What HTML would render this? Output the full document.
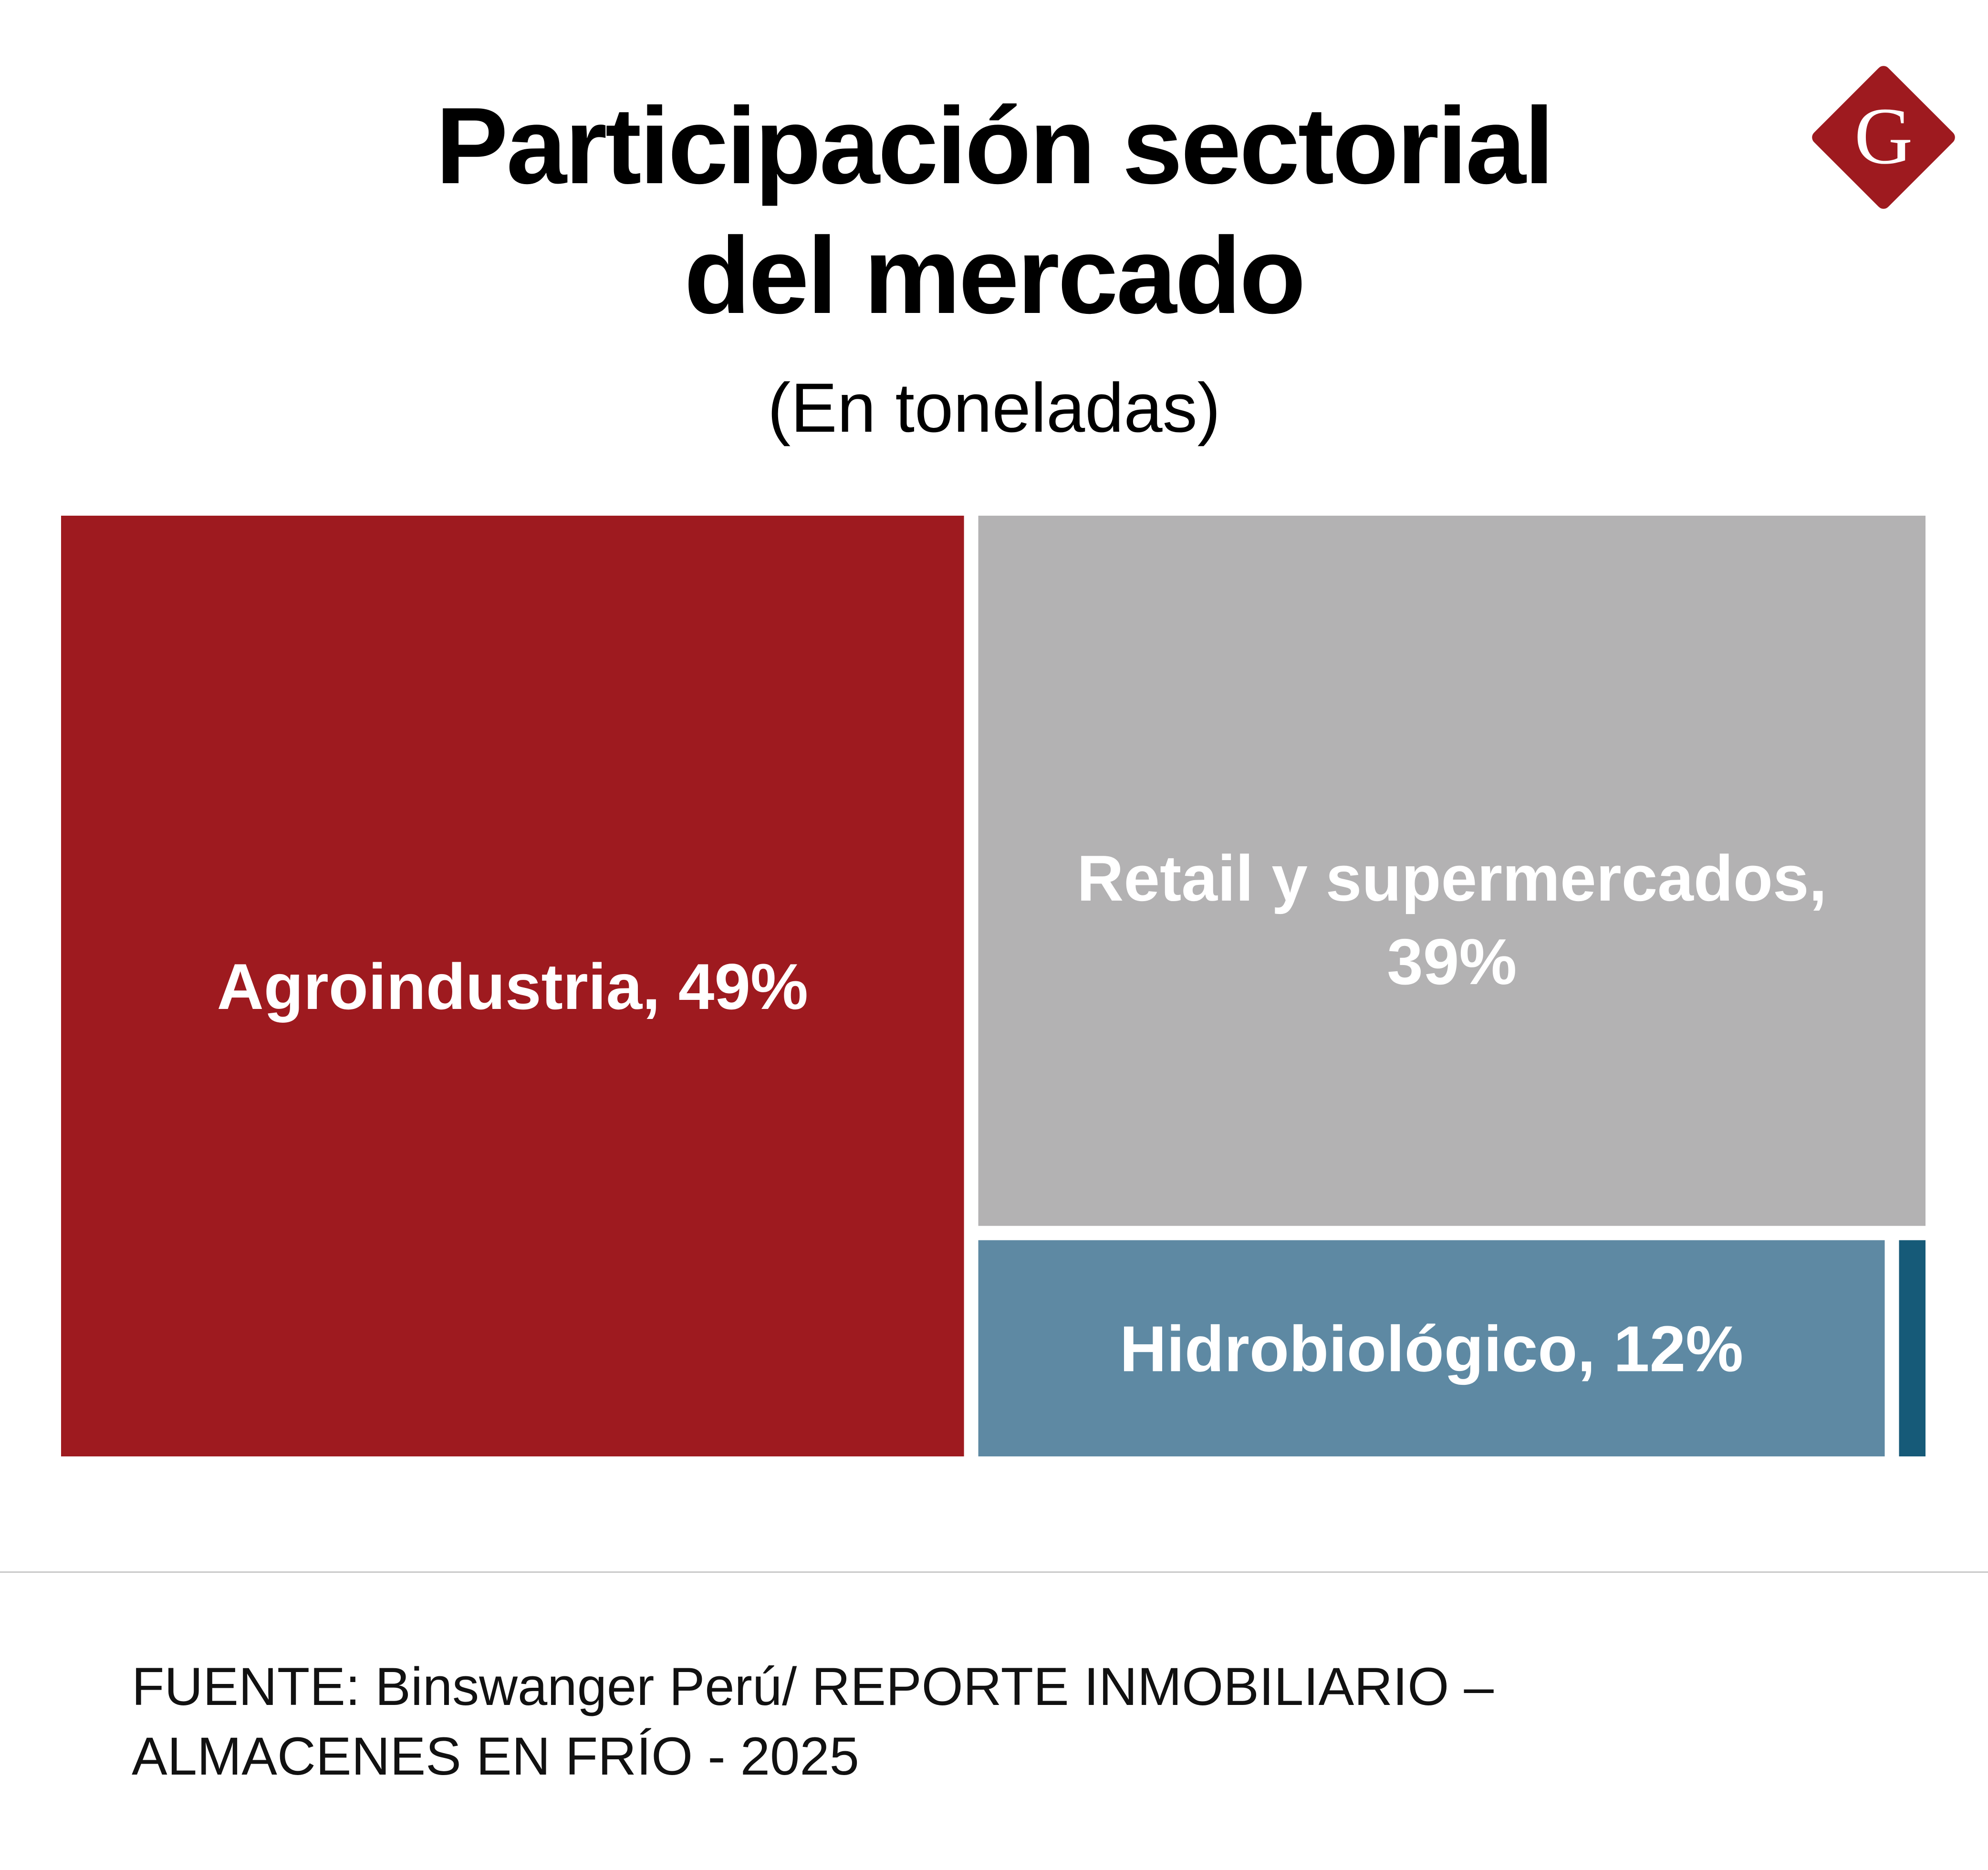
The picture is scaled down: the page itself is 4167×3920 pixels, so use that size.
<!DOCTYPE html>
<html><head><meta charset="utf-8">
<style>
html,body{margin:0;padding:0;background:#fff;}
body{width:4167px;height:3920px;position:relative;overflow:hidden;font-family:"Liberation Sans","DejaVu Sans",sans-serif;}
.t{position:absolute;left:0;width:4167px;text-align:center;color:#000;}
</style></head><body>
<div class="t" style="top:170px;font-size:228px;font-weight:bold;line-height:272px;letter-spacing:-4px;">Participación sectorial<br>del mercado</div>
<div class="t" style="top:770px;font-size:146px;line-height:170px;">(En toneladas)</div>
<svg style="position:absolute;left:3790px;top:130px" width="316" height="316" viewBox="0 0 316 316">
<rect x="48" y="48" width="220" height="220" rx="14" transform="rotate(45 158 158)" fill="#9e1a1f"/>
<text x="158" y="212" text-anchor="middle" font-family="Liberation Serif,serif" font-size="170" fill="#fff">G</text>
</svg>
<svg id="tm" style="position:absolute;left:0;top:0" width="4167" height="3920"></svg>
<div style="position:absolute;left:0;top:3294px;width:4167px;height:3px;background:#c8c8c8"></div>
<div style="position:absolute;left:276px;top:3463px;font-size:112px;line-height:146px;color:#111;">FUENTE: Binswanger Perú/ REPORTE INMOBILIARIO –<br>ALMACENES EN FRÍO - 2025</div>
<script>
const categories=["Agroindustria","Retail y supermercados","Hidrobiológico","Otros"];
const values=[47.5,38.2,11.3,0.33];
const labels=["Agroindustria, 49%","Retail y supermercados,|39%","Hidrobiológico, 12%",""];
const colors=["#9e1a1f","#b3b2b3","#5e89a3","#165a78"];
const X0=128,Y0=1081,W=3908,H=1972,G=30;
const svg=document.getElementById('tm');const NS='http://www.w3.org/2000/svg';
const tot=values.reduce((a,b)=>a+b,0);
const rects=[];
const wA=(W-G)*values[0]/tot;
rects.push([X0,Y0,wA,H]);
const rx=X0+wA+G, rw=W-wA-G;
const rest=values[1]+values[2]+values[3];
const hR=(H-G)*values[1]/rest;
rects.push([rx,Y0,rw,hR]);
const by=Y0+hR+G, bh=H-hR-G;
const bot=values[2]+values[3];
const w2=(rw-G)*values[2]/bot;
rects.push([rx,by,w2,bh]);
rects.push([rx+w2+G,by,rw-w2-G,bh]);
const yOff=[48,150,48,48];
rects.forEach((r,i)=>{
 const e=document.createElementNS(NS,'rect');
 e.setAttribute('x',r[0]);e.setAttribute('y',r[1]);e.setAttribute('width',r[2]);e.setAttribute('height',r[3]);e.setAttribute('fill',colors[i]);
 
 
 svg.appendChild(e);
 if(labels[i]){
  const lines=labels[i].split('|');
  const t=document.createElementNS(NS,'text');
  t.setAttribute('text-anchor','middle');t.setAttribute('fill','#fff');t.setAttribute('font-weight','bold');t.setAttribute('font-size','136');
  t.setAttribute('font-family','Liberation Sans, sans-serif');
  
  
  const cx=r[0]+r[2]/2, cy=r[1]+r[3]/2;
  const lh=175;
  lines.forEach((l,j)=>{const s=document.createElementNS(NS,'tspan');s.setAttribute('x',cx);s.setAttribute('y',cy+yOff[i]+(j-(lines.length-1)/2)*lh);s.textContent=l;t.appendChild(s);});
  svg.appendChild(t);
 }
});
</script>
</body></html>
